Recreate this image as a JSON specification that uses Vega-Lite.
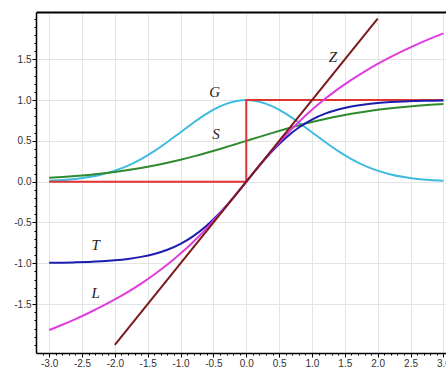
{
  "$schema": "https://vega.github.io/schema/vega-lite/v6.json",
  "width": 410,
  "height": 341,
  "autosize": {"type": "none"},
  "padding": {"left": 36, "top": 12, "right": 0, "bottom": 19},
  "background": "white",
  "config": {
    "view": {"stroke": null},
    "axis": {"labelFont": "Liberation Sans", "labelFontSize": 10, "labelColor": "#333", "domainColor": "#000", "tickColor": "#000", "title": null}
  },
  "datasets": {
    "curves": [
      {"x": -3.0, "G": 0.0111, "S": 0.0474, "T": -0.9951, "L": -1.8184},
      {"x": -2.8, "G": 0.0198, "S": 0.0573, "T": -0.9926, "L": -1.7533},
      {"x": -2.6, "G": 0.0340, "S": 0.0691, "T": -0.9890, "L": -1.6837},
      {"x": -2.4, "G": 0.0561, "S": 0.0832, "T": -0.9837, "L": -1.6094},
      {"x": -2.2, "G": 0.0889, "S": 0.0998, "T": -0.9757, "L": -1.5297},
      {"x": -2.0, "G": 0.1353, "S": 0.1192, "T": -0.9640, "L": -1.4436},
      {"x": -1.8, "G": 0.1979, "S": 0.1419, "T": -0.9468, "L": -1.3504},
      {"x": -1.6, "G": 0.2780, "S": 0.1680, "T": -0.9217, "L": -1.2490},
      {"x": -1.4, "G": 0.3753, "S": 0.1978, "T": -0.8854, "L": -1.1380},
      {"x": -1.2, "G": 0.4868, "S": 0.2315, "T": -0.8337, "L": -1.0160},
      {"x": -1.0, "G": 0.6065, "S": 0.2689, "T": -0.7616, "L": -0.8814},
      {"x": -0.8, "G": 0.7261, "S": 0.3100, "T": -0.6640, "L": -0.7327},
      {"x": -0.6, "G": 0.8353, "S": 0.3543, "T": -0.5370, "L": -0.5688},
      {"x": -0.4, "G": 0.9231, "S": 0.4013, "T": -0.3799, "L": -0.3900},
      {"x": -0.2, "G": 0.9802, "S": 0.4502, "T": -0.1974, "L": -0.1987},
      {"x": 0.0, "G": 1.0, "S": 0.5, "T": 0.0, "L": 0.0},
      {"x": 0.2, "G": 0.9802, "S": 0.5498, "T": 0.1974, "L": 0.1987},
      {"x": 0.4, "G": 0.9231, "S": 0.5987, "T": 0.3799, "L": 0.3900},
      {"x": 0.6, "G": 0.8353, "S": 0.6457, "T": 0.5370, "L": 0.5688},
      {"x": 0.8, "G": 0.7261, "S": 0.6900, "T": 0.6640, "L": 0.7327},
      {"x": 1.0, "G": 0.6065, "S": 0.7311, "T": 0.7616, "L": 0.8814},
      {"x": 1.2, "G": 0.4868, "S": 0.7685, "T": 0.8337, "L": 1.0160},
      {"x": 1.4, "G": 0.3753, "S": 0.8022, "T": 0.8854, "L": 1.1380},
      {"x": 1.6, "G": 0.2780, "S": 0.8320, "T": 0.9217, "L": 1.2490},
      {"x": 1.8, "G": 0.1979, "S": 0.8581, "T": 0.9468, "L": 1.3504},
      {"x": 2.0, "G": 0.1353, "S": 0.8808, "T": 0.9640, "L": 1.4436},
      {"x": 2.2, "G": 0.0889, "S": 0.9002, "T": 0.9757, "L": 1.5297},
      {"x": 2.4, "G": 0.0561, "S": 0.9168, "T": 0.9837, "L": 1.6094},
      {"x": 2.6, "G": 0.0340, "S": 0.9309, "T": 0.9890, "L": 1.6837},
      {"x": 2.8, "G": 0.0198, "S": 0.9427, "T": 0.9926, "L": 1.7533},
      {"x": 3.0, "G": 0.0111, "S": 0.9526, "T": 0.9951, "L": 1.8184}
    ],
    "z": [{"x": -2.0, "y": -2.0}, {"x": 2.0, "y": 2.0}],
    "step": [
      {"i": 0, "x": -3.0, "y": 0.0},
      {"i": 1, "x": 0.0, "y": 0.0},
      {"i": 2, "x": 0.0, "y": 1.0},
      {"i": 3, "x": 3.0, "y": 1.0}
    ],
    "labels": [
      {"x": -0.48, "y": 1.1, "t": "G"},
      {"x": -0.46, "y": 0.58, "t": "S"},
      {"x": -2.29, "y": -0.77, "t": "T"},
      {"x": -2.29, "y": -1.36, "t": "L"},
      {"x": 1.32, "y": 1.53, "t": "Z"}
    ]
  },
  "resolve": {"axis": {"x": "independent", "y": "independent"}},
  "layer": [
    {
      "data": {"name": "curves"},
      "mark": {"type": "line", "color": "#3fbbe0", "strokeWidth": 2, "interpolate": "monotone"},
      "encoding": {
        "x": {"field": "x", "type": "quantitative",
          "scale": {"domain": [-3.2, 3.04], "nice": false, "zero": false},
          "axis": {"orient": "bottom", "values": [-3, -2.5, -2, -1.5, -1, -0.5, 0, 0.5, 1, 1.5, 2, 2.5, 3],
            "labelExpr": "(datum.value < 0 ? '-' : '') + format(abs(datum.value), '.1f')",
            "grid": true, "gridColor": "#e4e4e4", "tickSize": 4, "labelPadding": 1, "domainWidth": 1.5}},
        "y": {"field": "G", "type": "quantitative",
          "scale": {"domain": [-2.1, 2.08], "nice": false, "zero": false},
          "axis": {"orient": "left", "values": [-1.5, -1, -0.5, 0, 0.5, 1, 1.5],
            "labelExpr": "(datum.value < 0 ? '-' : '') + format(abs(datum.value), '.1f')",
            "grid": true, "gridColor": "#e4e4e4", "tickSize": 4, "labelPadding": 1, "domainWidth": 1.5}}
      }
    },
    {
      "data": {"name": "curves"},
      "mark": {"type": "line", "color": "#2f8a2f", "strokeWidth": 2, "interpolate": "monotone"},
      "encoding": {
        "x": {"field": "x", "type": "quantitative",
          "axis": {"orient": "bottom", "values": [-3.1, -2.9, -2.8, -2.7, -2.6, -2.4, -2.3, -2.2, -2.1, -1.9, -1.8, -1.7, -1.6, -1.4, -1.3, -1.2, -1.1, -0.9, -0.8, -0.7, -0.6, -0.4, -0.3, -0.2, -0.1, 0.1, 0.2, 0.3, 0.4, 0.6, 0.7, 0.8, 0.9, 1.1, 1.2, 1.3, 1.4, 1.6, 1.7, 1.8, 1.9, 2.1, 2.2, 2.3, 2.4, 2.6, 2.7, 2.8, 2.9],
            "labels": false, "domain": false, "grid": false, "tickSize": 2}},
        "y": {"field": "S", "type": "quantitative",
          "axis": {"orient": "left", "values": [-2, -1.9, -1.8, -1.7, -1.6, -1.4, -1.3, -1.2, -1.1, -0.9, -0.8, -0.7, -0.6, -0.4, -0.3, -0.2, -0.1, 0.1, 0.2, 0.3, 0.4, 0.6, 0.7, 0.8, 0.9, 1.1, 1.2, 1.3, 1.4, 1.6, 1.7, 1.8, 1.9, 2],
            "labels": false, "domain": false, "grid": false, "tickSize": 2}}
      }
    },
    {
      "data": {"name": "step"},
      "mark": {"type": "line", "color": "#e03333", "strokeWidth": 2},
      "encoding": {
        "x": {"field": "x", "type": "quantitative",
          "axis": {"orient": "top", "labels": false, "ticks": false, "grid": false, "domainWidth": 2}},
        "y": {"field": "y", "type": "quantitative", "axis": null},
        "order": {"field": "i", "type": "quantitative"}
      }
    },
    {
      "data": {"name": "curves"},
      "mark": {"type": "line", "color": "#1c1cb0", "strokeWidth": 2, "interpolate": "monotone"},
      "encoding": {
        "x": {"field": "x", "type": "quantitative", "axis": null},
        "y": {"field": "T", "type": "quantitative", "axis": null}
      }
    },
    {
      "data": {"name": "curves"},
      "mark": {"type": "line", "color": "#e03ce0", "strokeWidth": 2, "interpolate": "monotone"},
      "encoding": {
        "x": {"field": "x", "type": "quantitative", "axis": null},
        "y": {"field": "L", "type": "quantitative", "axis": null}
      }
    },
    {
      "data": {"name": "z"},
      "mark": {"type": "line", "color": "#7a1a1a", "strokeWidth": 2},
      "encoding": {
        "x": {"field": "x", "type": "quantitative", "axis": null},
        "y": {"field": "y", "type": "quantitative", "axis": null}
      }
    },
    {
      "data": {"name": "labels"},
      "mark": {"type": "text", "font": "Liberation Serif", "fontStyle": "italic", "fontSize": 15, "color": "#222"},
      "encoding": {
        "x": {"field": "x", "type": "quantitative", "axis": null},
        "y": {"field": "y", "type": "quantitative", "axis": null},
        "text": {"field": "t"}
      }
    }
  ]
}
